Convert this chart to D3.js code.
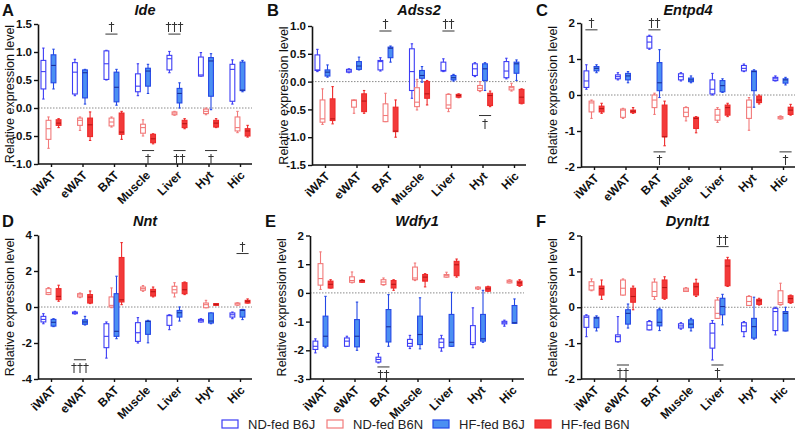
<!DOCTYPE html>
<html><head><meta charset="utf-8">
<script src="https://cdn.jsdelivr.net/npm/d3@7"></script>
<style>
html,body{margin:0;padding:0;background:#fff;}
svg{display:block;font-family:"Liberation Sans",Arial,sans-serif;}
</style></head>
<body>
<svg id="chart" width="800" height="431"></svg>
<script>
// ---------- DATA ----------
const categories = ["iWAT","eWAT","BAT","Muscle","Liver","Hyt","Hic"];
const groups = ["ND-fed B6J","ND-fed B6N","HF-fed B6J","HF-fed B6N"];
// each entry: [min, q1, median, q3, max]
const ideNDB6J = [[0.16,0.34,0.65,0.85,1.07],[0.22,0.25,0.64,0.81,0.87],[0.50,0.51,0.79,1.02,1.03],[0.22,0.29,0.39,0.61,0.79],[0.63,0.68,0.88,0.94,1.01],[0.57,0.57,0.59,0.91,0.99],[0.07,0.12,0.69,0.78,0.86]];
const ideNDB6N = [[-0.72,-0.56,-0.37,-0.22,-0.16],[-0.40,-0.31,-0.22,-0.18,-0.16],[-0.34,-0.32,-0.25,-0.18,-0.16],[-0.50,-0.45,-0.35,-0.29,-0.21],[-0.13,-0.12,-0.09,-0.07,-0.06],[-0.12,-0.10,-0.06,-0.02,0.0],[-0.44,-0.41,-0.35,-0.16,-0.06]];
const ideHFB6J = [[0.34,0.45,0.76,0.95,1.05],[0.07,0.18,0.63,0.68,0.69],[0.05,0.11,0.37,0.64,0.69],[0.26,0.39,0.66,0.71,0.78],[0.0,0.09,0.26,0.35,0.45],[-0.03,0.21,0.84,0.90,0.97],[0.29,0.31,0.32,0.82,0.85]];
const ideHFB6N = [[-0.35,-0.31,-0.27,-0.21,-0.19],[-0.58,-0.51,-0.30,-0.18,-0.07],[-0.56,-0.47,-0.43,-0.09,-0.06],[-0.64,-0.62,-0.55,-0.47,-0.46],[-0.37,-0.35,-0.28,-0.22,-0.19],[-0.35,-0.34,-0.27,-0.22,-0.19],[-0.52,-0.50,-0.41,-0.37,-0.31]];

const adss2NDB6J = [[0.18,0.20,0.21,0.48,0.58],[0.16,0.17,0.19,0.22,0.23],[0.19,0.21,0.36,0.38,0.43],[-0.30,-0.16,0.18,0.59,0.68],[0.18,0.19,0.20,0.35,0.41],[0.09,0.11,0.23,0.32,0.34],[0.05,0.07,0.19,0.36,0.42]];
const adss2NDB6N = [[-0.77,-0.73,-0.67,-0.33,-0.13],[-0.57,-0.46,-0.34,-0.33,-0.33],[-0.72,-0.72,-0.61,-0.40,-0.21],[-0.51,-0.45,-0.37,-0.11,0.04],[-0.54,-0.48,-0.42,-0.23,-0.22],[-0.18,-0.16,-0.12,-0.07,0.0],[-0.17,-0.15,-0.11,-0.09,-0.03]];
const adss2HFB6J = [[0.08,0.10,0.17,0.21,0.30],[0.21,0.22,0.28,0.36,0.44],[0.35,0.43,0.60,0.62,0.64],[-0.01,0.06,0.11,0.20,0.27],[0.01,0.03,0.07,0.11,0.13],[-0.16,0.02,0.23,0.32,0.34],[0.02,0.15,0.32,0.35,0.39]];
const adss2HFB6N = [[-0.76,-0.70,-0.67,-0.31,-0.09],[-0.57,-0.54,-0.35,-0.22,-0.16],[-1.00,-0.90,-0.89,-0.46,-0.33],[-0.42,-0.30,-0.22,0.0,0.02],[-0.29,-0.28,-0.25,-0.23,-0.22],[-0.45,-0.43,-0.25,-0.21,-0.17],[-0.40,-0.39,-0.28,-0.14,-0.13]];

const entpd4NDB6J = [[0.16,0.21,0.39,0.67,0.84],[0.42,0.45,0.51,0.56,0.62],[1.27,1.30,1.47,1.63,1.66],[0.39,0.42,0.51,0.59,0.62],[0.0,0.03,0.16,0.42,0.60],[0.65,0.67,0.74,0.82,0.86],[0.39,0.40,0.45,0.49,0.53]];
const entpd4NDB6N = [[-0.65,-0.47,-0.22,-0.17,-0.14],[-0.65,-0.62,-0.42,-0.39,-0.37],[-0.54,-0.35,-0.14,0.0,0.05],[-0.72,-0.60,-0.48,-0.35,-0.33],[-0.76,-0.70,-0.56,-0.40,-0.35],[-0.98,-0.65,-0.34,-0.14,-0.07],[-0.67,-0.66,-0.62,-0.60,-0.58]];
const entpd4HFB6J = [[0.62,0.67,0.74,0.79,0.84],[0.34,0.42,0.53,0.60,0.65],[-0.07,0.12,0.34,0.90,1.26],[0.34,0.37,0.42,0.47,0.53],[0.07,0.09,0.26,0.40,0.45],[-0.34,0.12,0.65,0.67,0.70],[0.28,0.33,0.42,0.45,0.49]];
const entpd4HFB6N = [[-0.51,-0.47,-0.38,-0.31,-0.23],[-0.51,-0.49,-0.45,-0.42,-0.35],[-1.41,-1.16,-1.16,-0.28,-0.17],[-1.05,-0.93,-0.65,-0.62,-0.60],[-0.60,-0.56,-0.35,-0.28,-0.23],[-0.25,-0.21,-0.14,-0.03,0.0],[-0.56,-0.54,-0.42,-0.34,-0.26]];

const nntNDB6J = [[-0.93,-0.83,-0.69,-0.52,-0.37],[-0.39,-0.37,-0.32,-0.28,-0.24],[-2.84,-2.26,-1.63,-0.93,-0.83],[-2.0,-1.91,-1.43,-0.87,-0.59],[-1.26,-1.02,-0.48,-0.46,-0.43],[-0.83,-0.83,-0.74,-0.69,-0.65],[-0.65,-0.56,-0.43,-0.33,-0.28]];
const nntNDB6N = [[0.69,0.70,0.80,1.02,1.08],[0.52,0.56,0.67,0.74,0.78],[-0.04,0.0,0.09,0.56,1.06],[0.87,0.93,1.02,1.11,1.19],[0.56,0.78,0.96,1.15,1.35],[-0.04,-0.04,0.13,0.22,0.37],[0.09,0.11,0.18,0.22,0.24]];
const nntHFB6J = [[-1.09,-1.06,-0.85,-0.69,-0.65],[-1.0,-0.96,-0.83,-0.71,-0.52],[-1.76,-1.63,-1.35,0.74,1.71],[-1.99,-1.52,-0.80,-0.78,-0.74],[-0.78,-0.56,-0.32,-0.19,0.0],[-0.93,-0.89,-0.78,-0.33,-0.33],[-0.70,-0.56,-0.19,-0.15,-0.13]];
const nntHFB6N = [[0.32,0.41,0.59,1.02,1.21],[0.19,0.22,0.55,0.69,0.89],[0.13,0.28,0.40,2.75,3.58],[0.56,0.61,0.85,0.98,1.11],[0.69,0.74,0.96,1.35,1.39],[0.09,0.09,0.15,0.19,0.19],[0.22,0.22,0.32,0.37,0.45]];

const wdfy1NDB6J = [[-2.09,-1.97,-1.86,-1.68,-1.60],[-1.86,-1.86,-1.68,-1.57,-1.51],[-2.44,-2.41,-2.32,-2.24,-2.11],[-1.94,-1.86,-1.76,-1.62,-1.48],[-2.03,-1.91,-1.72,-1.60,-1.48],[-1.91,-1.80,-1.74,-1.14,-0.52],[-1.16,-1.08,-1.04,-0.99,-0.95]];
const wdfy1NDB6N = [[0.12,0.27,0.50,1.02,1.43],[0.35,0.37,0.43,0.56,0.73],[0.27,0.29,0.38,0.46,0.52],[0.43,0.46,0.52,0.90,1.04],[0.55,0.55,0.60,0.64,0.72],[0.12,0.14,0.17,0.20,0.21],[0.35,0.35,0.40,0.44,0.46]];
const wdfy1HFB6J = [[-1.91,-1.86,-1.51,-0.81,-0.12],[-2.0,-1.88,-1.51,-0.93,-0.32],[-1.86,-1.71,-1.18,-0.58,-0.06],[-1.95,-1.80,-1.45,-0.81,-0.17],[-1.86,-1.86,-1.72,-0.75,0.02],[-1.72,-1.68,-1.60,-0.75,0.09],[-1.06,-1.06,-1.04,-0.44,-0.21]];
const wdfy1HFB6N = [[0.17,0.17,0.30,0.41,0.46],[0.37,0.37,0.43,0.44,0.46],[0.09,0.17,0.30,0.43,0.46],[0.21,0.41,0.55,0.64,0.67],[0.55,0.60,0.98,1.10,1.18],[0.06,0.06,0.14,0.21,0.23],[0.23,0.26,0.35,0.41,0.46]];

const dynlt1NDB6J = [[-0.82,-0.56,-0.28,-0.24,-0.21],[-0.97,-0.96,-0.82,-0.77,-0.26],[-0.63,-0.63,-0.50,-0.40,-0.37],[-0.61,-0.58,-0.52,-0.46,-0.43],[-1.47,-1.14,-0.72,-0.45,-0.37],[-0.82,-0.68,-0.52,-0.43,-0.40],[-0.77,-0.65,-0.12,-0.03,0.0]];
const dynlt1NDB6N = [[0.46,0.48,0.60,0.71,0.79],[0.34,0.34,0.53,0.76,0.79],[0.22,0.30,0.44,0.70,0.79],[0.44,0.44,0.48,0.53,0.55],[-0.31,-0.31,-0.17,0.20,0.27],[0.05,0.05,0.16,0.30,0.32],[0.06,0.08,0.13,0.46,0.67]];
const dynlt1HFB6J = [[-0.66,-0.57,-0.30,-0.28,-0.24],[-0.58,-0.47,-0.17,-0.07,0.09],[-0.65,-0.52,-0.42,-0.07,-0.03],[-0.66,-0.57,-0.47,-0.35,-0.31],[-0.49,-0.21,0.02,0.25,0.36],[-0.89,-0.86,-0.54,-0.31,0.28],[-0.66,-0.66,-0.17,-0.12,0.0]];
const dynlt1HFB6N = [[0.22,0.34,0.52,0.59,0.76],[-0.07,0.14,0.30,0.53,0.59],[0.22,0.25,0.55,0.76,0.85],[0.30,0.34,0.57,0.67,0.78],[0.58,0.60,1.15,1.32,1.39],[0.06,0.08,0.18,0.22,0.25],[0.11,0.13,0.24,0.32,0.34]];

// tick values per panel
const ticksA = [-1.0,-0.5,0.0,0.5,1.0,1.5];
const ticksB = [-1.5,-1.0,-0.5,0.0,0.5,1.0];
const ticksC = [-2,-1,0,1,2];
const ticksD = [-4,-2,0,2,4];
const ticksE = [-3,-2,-1,0,1,2];
const ticksF = [-2,-1,0,1,2];

// significance marks: [category, pair ("J" = B6J pair, "N" = B6N pair), y value of bar, side, label]
const sigA = [["BAT","J",1.32,"above","†"],["Liver","J",1.32,"above","†††"],["Muscle","N",-0.76,"below","†"],["Liver","N",-0.76,"below","††"],["Hyt","N",-0.76,"below","†"]];
const sigB = [["BAT","J",0.91,"above","†"],["Liver","J",0.91,"above","††"],["Hyt","N",-0.61,"below","†"]];
const sigC = [["iWAT","J",1.81,"above","†"],["BAT","J",1.81,"above","††"],["BAT","N",-1.58,"below","†"],["Hic","N",-1.58,"below","†"]];
const sigD = [["eWAT","J",-2.93,"below","†††"],["Hic","N",2.97,"above","†"]];
const sigE = [["BAT","J",-2.58,"below","††"]];
const sigF = [["eWAT","J",-1.61,"below","††"],["Liver","N",1.69,"above","††"],["Liver","J",-1.61,"below","†"]];

// ---------- LAYOUT / STYLE ----------
const panels = [
  {letter:"A", title:"Ide",    x0:38,  yTop:24,  yBot:164, dom:[-1,1.5], ticks:ticksA, dec:1, data:[ideNDB6J,ideNDB6N,ideHFB6J,ideHFB6N], sig:sigA, row:0},
  {letter:"B", title:"Adss2",  x0:312, yTop:26,  yBot:165, dom:[-1.5,1], ticks:ticksB, dec:1, data:[adss2NDB6J,adss2NDB6N,adss2HFB6J,adss2HFB6N], sig:sigB, row:0},
  {letter:"C", title:"Entpd4", x0:581, yTop:23,  yBot:167, dom:[-2,2],   ticks:ticksC, dec:0, data:[entpd4NDB6J,entpd4NDB6N,entpd4HFB6J,entpd4HFB6N], sig:sigC, row:0},
  {letter:"D", title:"Nnt",    x0:38,  yTop:235, yBot:379, dom:[-4,4],   ticks:ticksD, dec:0, data:[nntNDB6J,nntNDB6N,nntHFB6J,nntHFB6N], sig:sigD, row:1},
  {letter:"E", title:"Wdfy1",  x0:310, yTop:235.5,yBot:379, dom:[-3,2],  ticks:ticksE, dec:0, data:[wdfy1NDB6J,wdfy1NDB6N,wdfy1HFB6J,wdfy1HFB6N], sig:sigE, row:1},
  {letter:"F", title:"Dynlt1", x0:581, yTop:235.5,yBot:379, dom:[-2,2],  ticks:ticksF, dec:0, data:[dynlt1NDB6J,dynlt1NDB6N,dynlt1HFB6J,dynlt1HFB6N], sig:sigF, row:1}
];
const W = 214;
const offsets = [-7.6,-2.5,2.5,7.6];
const boxW = 4.8;
const styles = [
  {fill:"#ffffff", stroke:"#3d3df5", med:"#3d3df5"},
  {fill:"#ffffff", stroke:"#f27a7a", med:"#f27a7a"},
  {fill:"#4b8ff2", stroke:"#2448e6", med:"#1a2f9e"},
  {fill:"#f23a3a", stroke:"#ee2a2a", med:"#b81515"}
];

const svg = d3.select("#chart");
// identity filter: rasterises the dagger marks in grayscale
const defs = svg.append("defs");
defs.append("filter").attr("id", "gray").attr("x", "-20%").attr("y", "-20%").attr("width", "140%").attr("height", "140%")
  .append("feOffset").attr("dx", 0).attr("dy", 0);

panels.forEach(p => {
  const g = svg.append("g");
  const x = d3.scalePoint().domain(categories).range([p.x0 + 13, p.x0 + 202]);
  const y = d3.scaleLinear().domain(p.dom).range([p.yBot, p.yTop]);
  const midY = (p.yTop + p.yBot) / 2;
  const rowTop = p.row === 0 ? 0 : 211;

  // letter & title
  g.append("text").attr("x", p.x0 - (p.x0 < 100 ? 36 : 45)).attr("y", rowTop + 15.5)
    .attr("font-size", 16.5).attr("font-weight", "bold").attr("fill", "#111").text(p.letter);
  g.append("text").attr("x", p.x0 + W / 2).attr("y", rowTop + 15).attr("text-anchor", "middle")
    .attr("font-size", 14.5).attr("font-weight", "bold").attr("font-style", "italic").attr("fill", "#111").text(p.title);

  // y label
  g.append("text").attr("transform", `translate(${p.x0 - 24},${midY}) rotate(-90)`)
    .attr("text-anchor", "middle").attr("font-size", 12.5).attr("fill", "#111").text("Relative expression level");

  // zero line
  g.append("line").attr("x1", p.x0).attr("x2", p.x0 + W).attr("y1", y(0)).attr("y2", y(0))
    .attr("stroke", "#8a8a8a").attr("stroke-width", 1).attr("stroke-dasharray", "1.5,1.5");

  // y axis
  const ya = g.append("g").attr("transform", `translate(${p.x0},0)`)
    .call(d3.axisLeft(y).tickValues(p.ticks).tickSize(4).tickSizeOuter(0).tickPadding(2)
      .tickFormat(d => d.toFixed(p.dec)));
  ya.select(".domain").attr("stroke", "#111").attr("stroke-width", 1.6);
  ya.selectAll(".tick line").attr("stroke", "#111").attr("stroke-width", 1.4);
  ya.selectAll(".tick text").attr("font-size", 11.5).attr("font-weight", "bold").attr("fill", "#111")
    .attr("font-family", "'Liberation Sans',Arial,sans-serif");

  // x axis
  const xa = g.append("g").attr("transform", `translate(0,${p.yBot})`)
    .call(d3.axisBottom(x).tickSize(3).tickSizeOuter(0));
  xa.select(".domain").attr("d", `M${p.x0},0H${p.x0 + W}`).attr("stroke", "#111").attr("stroke-width", 1.6);
  xa.selectAll(".tick line").attr("stroke", "#111").attr("stroke-width", 1.4);
  xa.selectAll(".tick text").attr("font-size", 12).attr("font-weight", "bold").attr("fill", "#111")
    .attr("font-family", "'Liberation Sans',Arial,sans-serif")
    .attr("text-anchor", "end").attr("x", 0).attr("y", 0).attr("dy", 0)
    .attr("transform", "translate(5,12) rotate(-45)");

  // boxes
  p.data.forEach((series, gi) => {
    const st = styles[gi];
    series.forEach((v, ci) => {
      const cx = x(categories[ci]) + offsets[gi];
      const [mn, q1, md, q3, mx] = v;
      const bg = g.append("g");
      bg.append("line").attr("x1", cx).attr("x2", cx).attr("y1", y(mx)).attr("y2", y(mn))
        .attr("stroke", st.stroke).attr("stroke-width", 1.1);
      [mn, mx].forEach(val => bg.append("line").attr("x1", cx - 1.2).attr("x2", cx + 1.2)
        .attr("y1", y(val)).attr("y2", y(val)).attr("stroke", st.stroke).attr("stroke-width", 1.1));
      const top = y(q3), bot = y(q1);
      bg.append("rect").attr("x", cx - boxW / 2).attr("y", top).attr("width", boxW)
        .attr("height", Math.max(bot - top, 1.2))
        .attr("fill", st.fill).attr("stroke", st.stroke).attr("stroke-width", 1.1);
      bg.append("line").attr("x1", cx - boxW / 2).attr("x2", cx + boxW / 2).attr("y1", y(md)).attr("y2", y(md))
        .attr("stroke", st.med).attr("stroke-width", 1.1);
    });
  });

  // significance
  const sg = g.append("g").attr("filter", "url(#gray)");
  p.sig.forEach(s => {
    const [cat, pair, val, side, label] = s;
    const a = x(cat) + (pair === "J" ? offsets[0] : offsets[1]);
    const b = x(cat) + (pair === "J" ? offsets[2] : offsets[3]);
    const ly = y(val);
    sg.append("line").attr("x1", a - 1).attr("x2", b + 1).attr("y1", ly).attr("y2", ly)
      .attr("stroke", "#333").attr("stroke-width", 1);
    sg.append("text").attr("x", (a + b) / 2).attr("y", side === "above" ? ly - 3 : ly + 12)
      .attr("text-anchor", "middle").attr("font-size", 12).attr("font-family", "'DejaVu Sans',sans-serif")
      .attr("fill", "#333").text(label);
  });
});

// legend
const legendX = [222, 327, 433, 535];
groups.forEach((name, i) => {
  const st = styles[i];
  svg.append("rect").attr("x", legendX[i]).attr("y", 420).attr("width", 16).attr("height", 8)
    .attr("fill", st.fill).attr("stroke", st.stroke).attr("stroke-width", 1.2);
  svg.append("text").attr("x", legendX[i] + 26).attr("y", 429).attr("font-size", 13).attr("fill", "#222").text(name);
});
</script>
</body></html>
